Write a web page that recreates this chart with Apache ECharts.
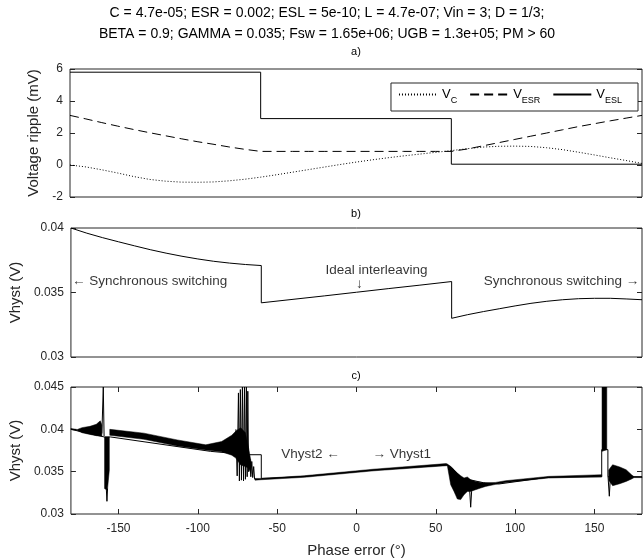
<!DOCTYPE html>
<html><head><meta charset="utf-8">
<script src="https://cdn.jsdelivr.net/npm/echarts@6/dist/echarts.min.js"></script>
<style>html,body{margin:0;padding:0;background:#fff}#c{width:644px;height:560px}</style>
</head><body><div id="c"></div>
<script>
// ---------------- data ----------------
const titleLines = ['C = 4.7e-05; ESR = 0.002; ESL = 5e-10; L = 4.7e-07; Vin = 3; D = 1/3;',
                    'BETA = 0.9; GAMMA = 0.035; Fsw = 1.65e+06; UGB = 1.3e+05; PM > 60'];
const xTicks = [-150, -100, -50, 0, 50, 100, 150];

// a) voltage ripple (mV)
const phaseA = [-180,-170,-160,-150,-140,-130,-120,-110,-100,-90,-80,-70,-60,-50,-40,-30,-20,-10,0,10,20,30,40,50,60,70,80,90,100,110,120,130,140,150,160,170,180];
const vC   = [0,-0.12,-0.3,-0.5,-0.72,-0.9,-1.01,-1.07,-1.08,-1.06,-0.99,-0.89,-0.76,-0.61,-0.45,-0.29,-0.13,0.03,0.18,0.32,0.45,0.57,0.68,0.79,0.9,1.02,1.12,1.17,1.18,1.16,1.08,0.96,0.8,0.63,0.45,0.28,0.1];
const vESR = [3.1,2.88,2.65,2.43,2.22,2.02,1.83,1.64,1.46,1.3,1.13,0.98,0.85,0.85,0.85,0.85,0.85,0.85,0.85,0.85,0.85,0.85,0.85,0.85,0.85,1.0,1.2,1.4,1.6,1.8,2.0,2.2,2.4,2.58,2.76,2.93,3.1];
const phaseESL = [-180,-60,-60,60,60,180];
const vESL     = [5.8,5.8,2.9,2.9,0.05,0.05];

// b) Vhyst (V)
const phaseB = [-180,-170,-160,-150,-140,-130,-120,-110,-100,-90,-80,-70,-60,-60,-40,-20,0,20,40,60,60,70,80,90,100,110,120,130,140,150,160,170,180];
const vB = [0.0400,0.03960,0.03925,0.03893,0.03862,0.03832,0.03805,0.03781,0.03760,0.03742,0.03728,0.03717,0.03709,
            0.03420,0.03447,0.03474,0.03502,0.03530,0.03557,0.03585,
            0.03300,0.03328,0.03352,0.03374,0.03396,0.03416,0.03432,0.03444,0.03452,0.03455,0.03455,0.03450,0.03444];

// c) Vhyst (V): thin trace
const phaseC = [-180,-159,-155,-92,-68,-60,-60,-33,11,57,60,66,80,90,121,154.6,154.6,158.5,158.5,180];
const vCthin = [0.0400,0.0391,0.0391,0.0374,0.0370,0.0370,0.0342,0.03443,0.0352,0.0358,0.0355,0.03425,0.0337,0.03355,0.03435,0.0344,0.0376,0.0376,0.0344,0.0344];
// c) noisy trace envelopes: [phase, lower, upper]
const bandC1 = [[-180,0.0400,0.0401],[-176,0.03985,0.03998],[-173,0.0396,0.0402],[-168,0.0394,0.04035],[-164,0.03925,0.0406],[-161.5,0.0392,0.0410],[-160.5,0.0392,0.0405]];
const bandC2 = [[-158.8,0.0330,0.0391],[-157,0.0328,0.0391],[-155.8,0.0352,0.0391]];
const bandC3 = [[-155.5,0.0393,0.0400],[-134,0.03882,0.03955],[-113,0.03803,0.03875],[-95,0.03755,0.03817],[-85,0.03735,0.03856],[-78.6,0.03695,0.03930],[-76,0.0366,0.0398],[-73,0.0358,0.0402],[-70,0.0356,0.0396],[-68,0.0354,0.0378],[-66.5,0.0348,0.0362]];
const bandC4 = [[-64,0.0340,0.0342],[-60,0.03405,0.0342],[-33,0.03433,0.03452],[11,0.0351,0.0353],[56.5,0.0357,0.03595],[57.3,0.0357,0.0359],[59.4,0.03346,0.03562],[61.5,0.03267,0.03523],[63.6,0.03177,0.03484],[65.7,0.0317,0.03452],[67.8,0.03228,0.03425],[69.9,0.03267,0.03437],[72,0.03267,0.03405],[75.1,0.03287,0.03385],[78.3,0.03307,0.03373],[81.4,0.03326,0.03366],[87.7,0.0335,0.03373],[94,0.03373,0.03393],[121,0.03425,0.03444],[154.6,0.0344,0.03464]];
const bandC5 = [[154.8,0.0374,0.045],[157.8,0.0376,0.045]];
const bandC6 = [[159,0.0340,0.0352],[161.5,0.03334,0.03582],[166,0.03358,0.03555],[170,0.03385,0.03523],[173.4,0.03413,0.03464],[175,0.0343,0.0344],[180,0.0343,0.0344]];
// c) isolated spikes: [phase, value]
const spikeC1 = [[-160.5,0.0395],[-159.6,0.045],[-159.1,0.0392]];
const spikeC2 = [[-157.7,0.0330],[-157.3,0.0315],[-156.9,0.0330]];
const spikeC3 = [[-76,0.0400],[-75.2,0.0345],[-74.4,0.0443],[-73.8,0.0339],[-73.2,0.0447],[-72.5,0.0340],[-71.9,0.0450],[-71.2,0.0339],[-70.6,0.0450],[-70.0,0.0341],[-69.4,0.0450],[-68.9,0.0344],[-68.5,0.0445],[-68,0.0350],[-67.2,0.0365],[-66.6,0.0344],[-66,0.0362],[-65.4,0.0343],[-64.8,0.0356],[-64.2,0.0341]];
const spikeC4 = [[71.4,0.0327],[72,0.0308],[72.6,0.0327]];
const spikeC5 = [[158.6,0.0344],[159.4,0.0321],[160.1,0.0345]];

// ---------------- chart ----------------
const FONT = "'Liberation Sans', Arial, Helvetica, sans-serif";
const AX = '#262626';
const zip = (xs, ys) => xs.map((x, i) => [x, ys[i]]);
const bands = [bandC1, bandC2, bandC3, bandC4, bandC5, bandC6];
const spikes = [spikeC1, spikeC2, spikeC3, spikeC4, spikeC5];

const annotations = [
  {g:1, x:-179.4, y:0.0359, t:'\u2190 Synchronous switching', pos:'right'},
  {g:1, x:12.6, y:0.03675, t:'Ideal interleaving', pos:'inside'},
  {g:1, x:1.9, y:0.03567, t:'\u2193', pos:'inside'},
  {g:1, x:178.2, y:0.0359, t:'Synchronous switching \u2192', pos:'left'},
  {g:2, x:-10.6, y:0.0371, t:'Vhyst2 \u2190', pos:'left'},
  {g:2, x:10.1, y:0.0370, t:'\u2192 Vhyst1', pos:'right'}
];

const grids = [
  {left:70, right:2, top:69, height:128},
  {left:70, right:2, top:228, height:129},
  {left:70, right:2, top:387, height:127}
].map(g => Object.assign({show:true, borderColor:AX, borderWidth:1, backgroundColor:'transparent'}, g));

const noLine = {show:false, onZero:false};
const baseX = gi => ({type:'value', gridIndex:gi, min:-180, max:180, axisLine:noLine, splitLine:{show:false},
  axisTick:{show:false}, axisLabel:{show:false}});
const tickStyle = {show:true, inside:true, length:5, lineStyle:{color:AX, width:1}};
const labelStyle = {color:AX, fontSize:12, fontFamily:FONT};
const nameStyle = {color:AX, fontSize:15, fontFamily:FONT};
const fmt = v => String(+v.toFixed(4));

const xAxis = [
  baseX(0), baseX(1),
  Object.assign(baseX(2), {
    axisTick:Object.assign({customValues:xTicks}, tickStyle),
    axisLabel:Object.assign({show:true, customValues:xTicks, margin:9, formatter:fmt}, labelStyle),
    name:'Phase error (\u00b0)', nameLocation:'middle', nameGap:29, nameTextStyle:nameStyle
  }),
  Object.assign(baseX(2), {position:'top', axisTick:Object.assign({customValues:xTicks}, tickStyle)})
];

const yDefs = [
  {min:-2, max:6, interval:2, name:'Voltage ripple (mV)', gap:13},
  {min:0.03, max:0.04, interval:0.005, name:'Vhyst (V)', gap:37},
  {min:0.03, max:0.045, interval:0.005, name:'Vhyst (V)', gap:37}
];
const yAxis = [];
yDefs.forEach((d, gi) => {
  yAxis.push({type:'value', gridIndex:gi, min:d.min, max:d.max, interval:d.interval,
    axisLine:noLine, splitLine:{show:false}, axisTick:tickStyle,
    axisLabel:Object.assign({margin:7, formatter:fmt}, labelStyle),
    name:d.name, nameLocation:'middle', nameGap:d.gap, nameTextStyle:nameStyle});
});
yDefs.forEach((d, gi) => {
  yAxis.push({type:'value', gridIndex:gi, position:'right', min:d.min, max:d.max, interval:d.interval,
    axisLine:noLine, splitLine:{show:false}, axisTick:tickStyle, axisLabel:{show:false}});
});

const lineS = (name, gi, data, type) => ({type:'line', name, xAxisIndex:gi, yAxisIndex:gi, data,
  symbol:'none', animation:false, silent:true, lineStyle:{color:'#000', width:1, type:type || 'solid'}});

const series = [
  lineS('VC', 0, zip(phaseA, vC), [1, 2]),
  lineS('VESR', 0, zip(phaseA, vESR), [9, 5]),
  lineS('VESL', 0, zip(phaseESL, vESL)),
  lineS('b', 1, zip(phaseB, vB)),
  lineS('c-thin', 2, zip(phaseC, vCthin)),
  {type:'custom', xAxisIndex:2, yAxisIndex:2, clip:true, animation:false, silent:true,
   data: bands.map((b, i) => [b[0][0], b[0][1], i]),
   renderItem: (params, api) => {
     const b = bands[api.value(2)];
     const up = b.map(p => api.coord([p[0], p[2]]));
     const lo = b.slice().reverse().map(p => api.coord([p[0], p[1]]));
     return {type:'polygon', shape:{points: up.concat(lo)}, style:{fill:'#000', stroke:'#000', lineWidth:0.5}};
   }},
  ...spikes.map((s, i) => lineS('spike' + i, 2, s))
];
annotations.forEach(a => {
  series.push({type:'scatter', xAxisIndex:a.g, yAxisIndex:a.g, symbolSize:0, animation:false, silent:true,
    data:[{value:[a.x, a.y]}],
    label:{show:true, position:a.pos, distance:0, formatter:a.t, color:'#000', fontSize:13.5, fontFamily:FONT}});
});

const subs = {VC:'C', VESR:'ESR', VESL:'ESL'};
const subTitle = (t, top) => ({text:t, left:356, top, padding:0, textAlign:'center',
  textStyle:{fontSize:11, fontWeight:'normal', color:'#000', fontFamily:FONT}});
const option = {
  backgroundColor:'#fff',
  animation:false,
  title:[
    {text:titleLines.join('\n'), left:327, top:3, padding:0, textAlign:'center',
     textStyle:{fontSize:14, fontWeight:'normal', color:'#000', fontFamily:FONT, lineHeight:21}},
    subTitle('a)', 46), subTitle('b)', 208), subTitle('c)', 370)
  ],
  legend:{data:['VC','VESR','VESL'], right:6, top:83, orient:'horizontal', padding:[5,16,6,7], itemWidth:38, itemHeight:14, itemGap:12,
    borderColor:AX, borderWidth:1, backgroundColor:'#fff', selectedMode:false,
    itemStyle:{opacity:0},
    formatter: n => '{v|V}{s|' + subs[n] + '}',
    textStyle:{fontFamily:FONT, color:'#000',
      rich:{v:{fontSize:13, fontFamily:FONT, color:'#000', lineHeight:21, verticalAlign:'middle'},
            s:{fontSize:9, fontFamily:FONT, color:'#000', lineHeight:21, verticalAlign:'bottom'}}}},
  grid:grids, xAxis, yAxis, series
};
const chart = echarts.init(document.getElementById('c'));
chart.setOption(option);
</script></body></html>
